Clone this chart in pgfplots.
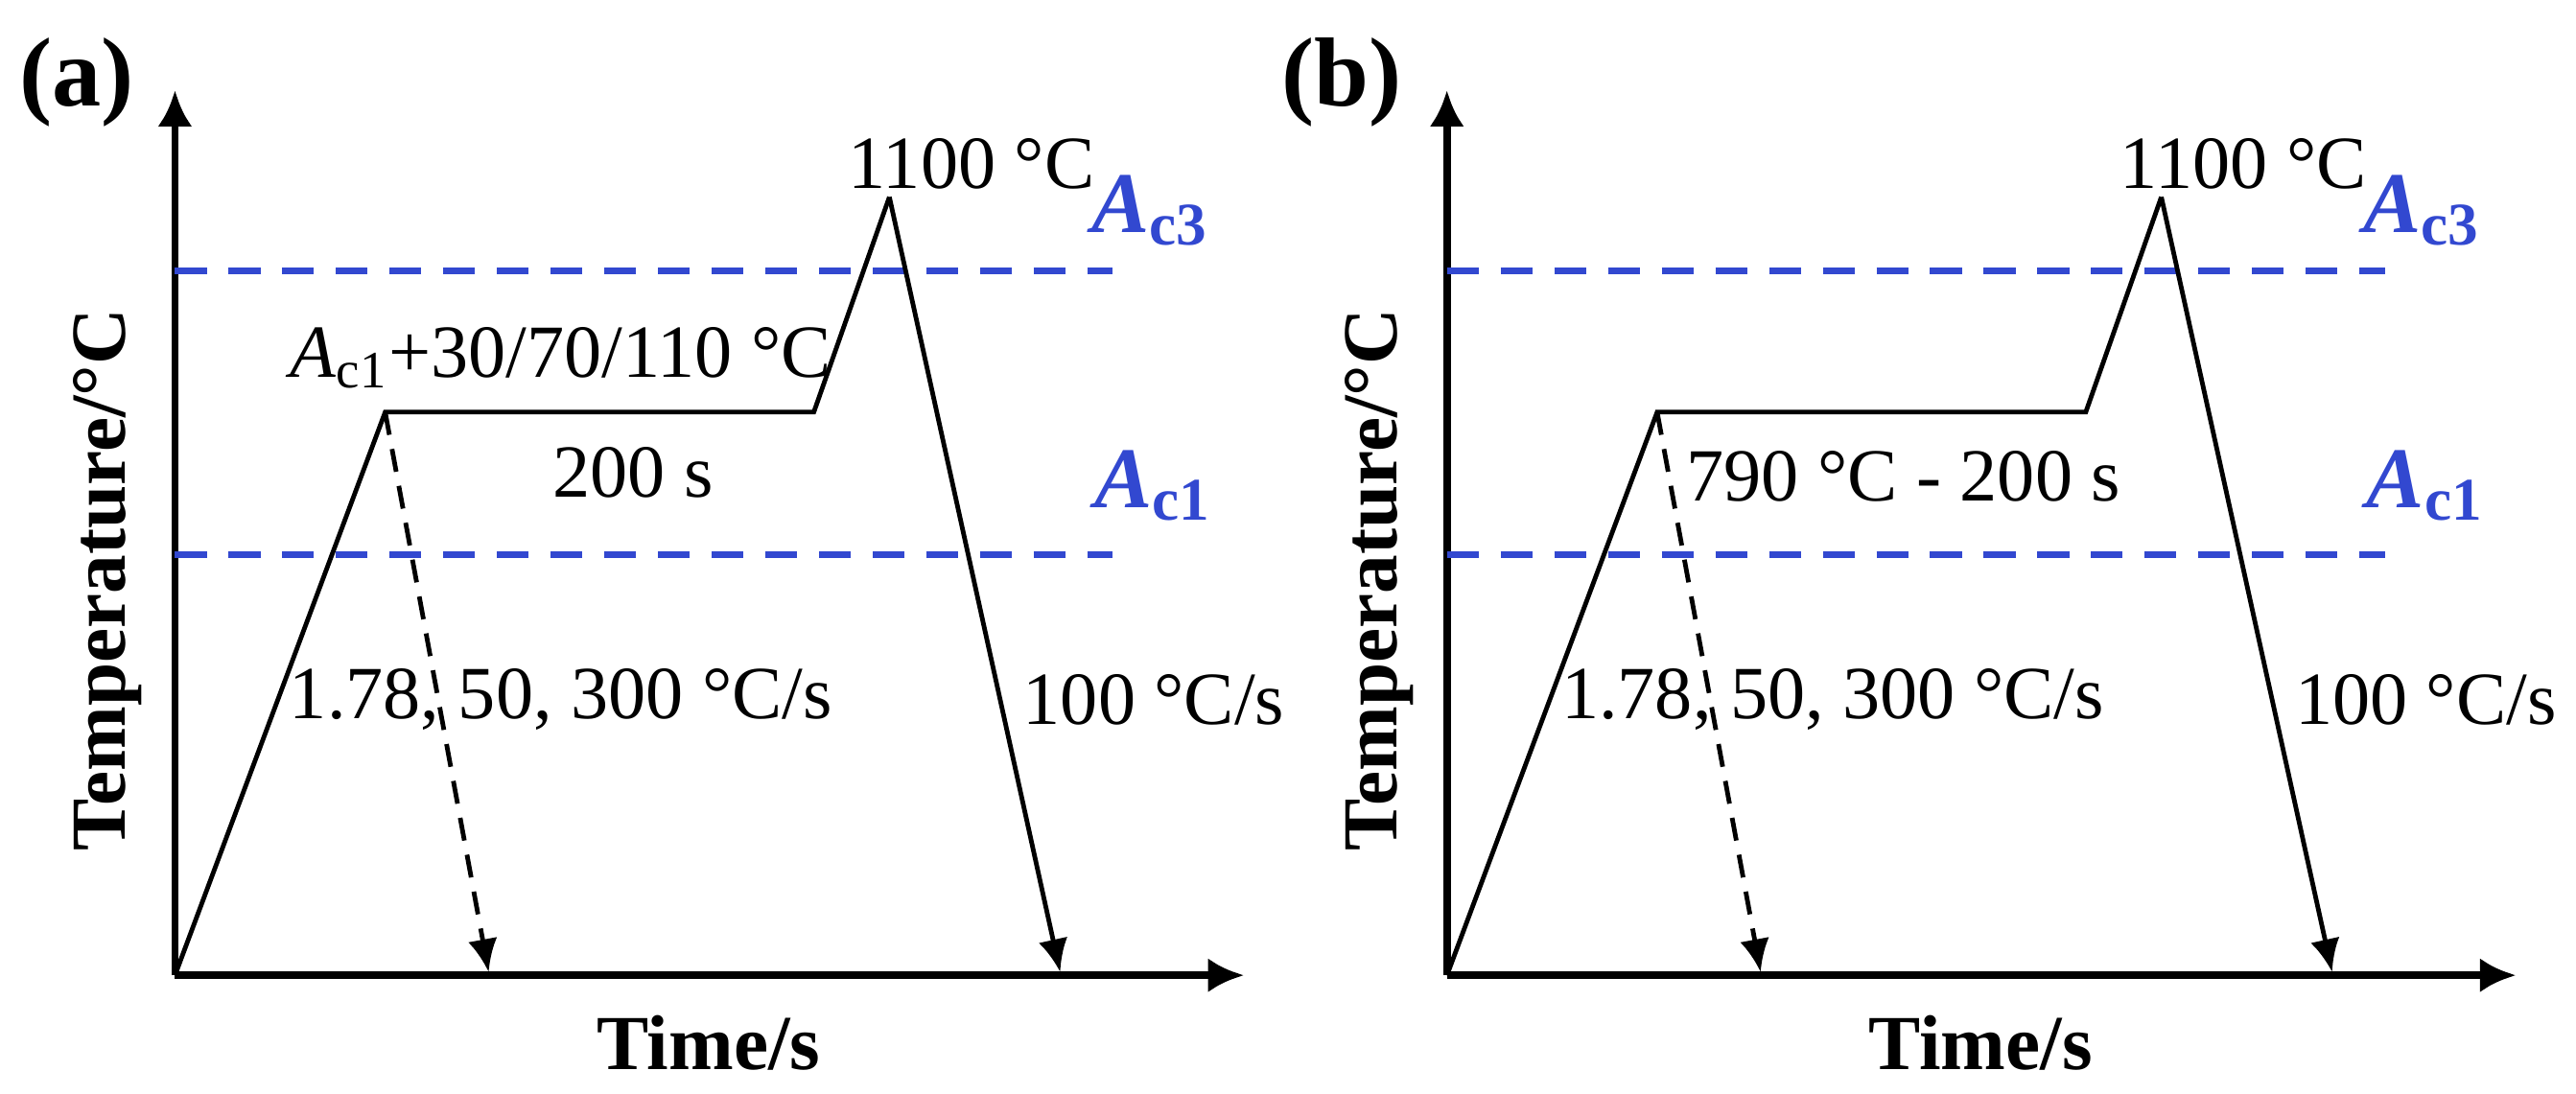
\documentclass[border=0pt]{standalone}
\usepackage{fontspec}
\setmainfont{Liberation Serif}
\usepackage{xcolor}
\usepackage{tikz}
\usepackage{pgfplots}
\pgfplotsset{compat=1.18}
\usetikzlibrary{arrows.meta}

\definecolor{acblue}{RGB}{50,72,208}

\pgfplotsset{
  profile/.style={
    x=0.1mm, y=0.1mm,
    xmin=0, xmax=651, ymin=0, ymax=539,
    axis x line=bottom, axis y line=left,
    axis line style={line width=1.3pt, -{Latex[length=2.2mm,width=2.1mm]}},
    xtick=\empty, ytick=\empty,
    clip=false,
    xlabel={Time/s}, ylabel={Temperature/°C},
    label style={font=\fontsize{13.5}{16}\selectfont\bfseries},
    xlabel style={at={(rel axis cs:0.499,-0.076)}, anchor=center},
    ylabel style={at={(rel axis cs:-0.063,0.447)}, anchor=center, rotate=0},
  },
  ac/.style={acblue, line width=1.2pt, dash pattern=on 5.5pt off 3.8pt},
  curve/.style={black, line width=0.8pt, line join=miter},
}
\newcommand{\annot}{\fontsize{13}{15}\selectfont}
\newcommand{\acfont}{\fontsize{15}{17}\selectfont\bfseries}

\begin{document}
\begin{tikzpicture}
% ---- (a) ----
\begin{axis}[profile, name=pa]
\path[draw=none] (axis cs:-106,-72) rectangle (axis cs:1462,594);
\addplot[ac] coordinates {(0,429) (571,429)};
\addplot[ac] coordinates {(0,256) (571,256)};
\addplot[curve] coordinates {(0,0) (128,343) (389,343) (435,474)};
\addplot[curve, -{Latex[length=2mm,width=1.8mm]}] coordinates {(435,474) (539,2)};
\addplot[black, line width=0.8pt, dash pattern=on 4pt off 2.5pt, -{Latex[length=2mm,width=1.8mm]}] coordinates {(128,343) (191,2)};
\node[font=\annot] at (axis cs:485,494) {1100 °C};
\node[font=\acfont, text=acblue] at (axis cs:594,466) {\textit{A}\textsubscript{c3}};
\node[font=\acfont, text=acblue] at (axis cs:596,298) {\textit{A}\textsubscript{c1}};
\node[font=\annot] at (axis cs:235,376) {\textit{A}\textsubscript{c1}+30/70/110 °C};
\node[font=\annot] at (axis cs:279,306) {200 s};
\node[font=\annot] at (axis cs:235,168) {1.78, 50, 300 °C/s};
\node[font=\annot] at (axis cs:596,168) {100 °C/s};
\node[font=\fontsize{17}{20}\selectfont\bfseries] at (axis cs:-60,544) {(a)};
\end{axis}
% ---- (b) ----
\begin{axis}[profile, at={(77.45mm,0)}]
\addplot[ac] coordinates {(0,429) (571,429)};
\addplot[ac] coordinates {(0,256) (571,256)};
\addplot[curve] coordinates {(0,0) (128,343) (389,343) (435,474)};
\addplot[curve, -{Latex[length=2mm,width=1.8mm]}] coordinates {(435,474) (539,2)};
\addplot[black, line width=0.8pt, dash pattern=on 4pt off 2.5pt, -{Latex[length=2mm,width=1.8mm]}] coordinates {(128,343) (191,2)};
\node[font=\annot] at (axis cs:485,494) {1100 °C};
\node[font=\acfont, text=acblue] at (axis cs:594,466) {\textit{A}\textsubscript{c3}};
\node[font=\acfont, text=acblue] at (axis cs:596,298) {\textit{A}\textsubscript{c1}};
\node[font=\annot] at (axis cs:278,304) {790 °C - 200 s};
\node[font=\annot] at (axis cs:235,168) {1.78, 50, 300 °C/s};
\node[font=\annot] at (axis cs:596,168) {100 °C/s};
\node[font=\fontsize{17}{20}\selectfont\bfseries] at (axis cs:-64,544) {(b)};
\end{axis}
\end{tikzpicture}
\end{document}
